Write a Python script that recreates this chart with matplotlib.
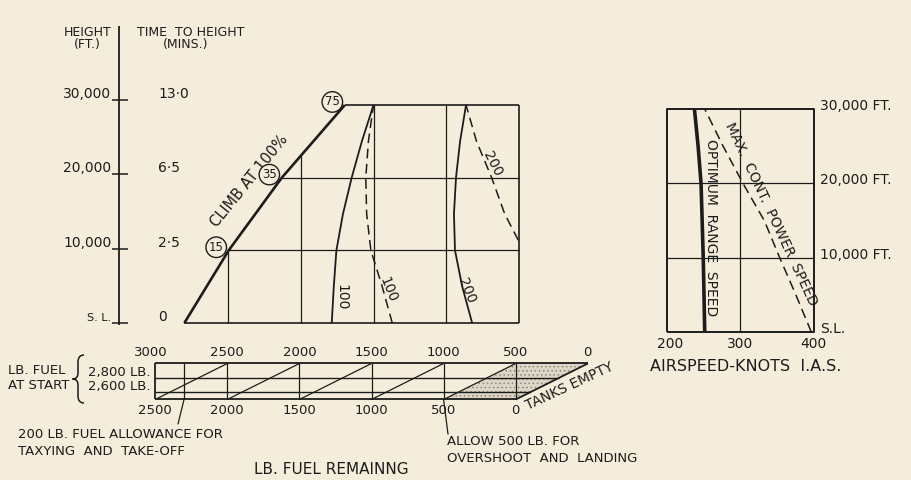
import numpy as np
import matplotlib
matplotlib.use("Agg")
import matplotlib.pyplot as plt
from matplotlib.path import Path
from matplotlib.patches import PathPatch, Polygon
import matplotlib.transforms as mtransforms

# ---------------- data ----------------
# left height / time-to-height scale
scale_heights = [0, 10000, 20000, 30000]
scale_height_labels = ["S. L.", "10,000", "20,000", "30,000"]
scale_time_labels = ["0", "2·5", "6·5", "13·0"]

# main chart: x = fuel remaining (lb, 3000 lb start scale), y = height (ft)
climb_h = [0, 10000, 20000, 30000]
climb_fuel = [2800, 2495, 2130, 1697]
climb_marks = ["15", "35", "75"]          # at 10,000 / 20,000 / 30,000 ft
climb_mark_h = [10000, 20000, 30000]
grid_heights = [10000, 20000, 30000]
grid_fuels = [2500, 2000, 1500, 1000]
chart_right_fuel = 500
curve_h = [0, 5000, 10000, 15000, 20000, 25000, 30000]
range100_solid = [1787, 1773, 1755, 1710, 1650, 1580, 1500]
range100_dashed = [1371, 1440, 1518, 1547, 1553, 1535, 1500]
range200_solid = [822, 890, 940, 947, 933, 905, 864]
range200_dashed_h = [11400, 15000, 20000, 25000, 30000]
range200_dashed = [505, 598, 688, 792, 864]

# fuel strip: x = fuel remaining on 3000 lb scale, y = fuel at start
strip_top_ticks = [3000, 2500, 2000, 1500, 1000, 500, 0]
strip_bottom_ticks = [2500, 2000, 1500, 1000, 500, 0]
start_fuel_levels = [3000, 2800, 2600, 2500]
start_fuel_labelled = [2800, 2600]
start_fuel_labels = ["2,800 LB.", "2,600 LB."]
strip_verticals = [2800, 2500, 2000, 1500, 1000, 500]
taxi_allowance = 200
landing_reserve = 500

# airspeed chart
as_h = [0, 5000, 10000, 15000, 20000, 25000, 30000]
opt_range_kt = [252, 251, 250, 248.5, 247, 243, 238]
max_cont_kt = [397, 376, 354, 333, 304, 277, 252]
as_ticks = [200, 300, 400]
as_height_ticks = [0, 10000, 20000, 30000]
as_height_labels = ["S.L.", "10,000 FT.", "20,000 FT.", "30,000 FT."]

# ---------------- style ----------------
W, H = 911, 480
BG = "#f4eddb"
INK = "#1c1c1c"
plt.rcParams["font.family"] = ["DejaVu Sans"]
plt.rcParams["lines.scale_dashes"] = False
plt.rcParams["hatch.linewidth"] = 0.6
plt.rcParams["hatch.color"] = "#8d877c"
plt.rcParams["lines.solid_capstyle"] = "butt"

fig = plt.figure(figsize=(W / 100, H / 100), dpi=100, facecolor=BG)


def rect(x0, y0, x1, y1):
    return [x0 / W, 1 - y1 / H, (x1 - x0) / W, (y1 - y0) / H]


def off(dx, dy):
    return mtransforms.ScaledTranslation(dx / 100, dy / 100, fig.dpi_scale_trans)


# canvas for lettering (pixel coordinates)
ax = fig.add_axes([0, 0, 1, 1])
ax.set_xlim(0, W)
ax.set_ylim(H, 0)
ax.axis("off")

axl = fig.add_axes(rect(110, 100, 130, 323))
axl.set_ylim(0, 30000)
axl.axis("off")

axm = fig.add_axes(rect(155.25, 105, 591.75, 323))
axm.set_xlim(3000, 0)
axm.set_ylim(0, 30000)
axm.axis("off")

axs = fig.add_axes(rect(155.2, 363.5, 587.8, 399.5))
axs.set_xlim(3000, 0)
axs.set_ylim(2500, 3000)
axs.axis("off")

axr = fig.add_axes(rect(666.5, 109, 813.5, 332))
axr.set_xlim(200, 400)
axr.set_ylim(0, 30000)
axr.axis("off")

for a in (ax, axl, axm, axs, axr):
    a.patch.set_alpha(0)

tk = dict(color=INK, fontfamily="DejaVu Sans")

# ---------------- left scale ----------------
ax.plot([118.5, 118.5], [26, 325], color=INK, lw=1.3)
trans_l = mtransforms.blended_transform_factory(ax.transData, axl.transData)
for h, hl, tl in zip(scale_heights, scale_height_labels, scale_time_labels):
    ax.plot([112, 128], [h, h], transform=trans_l, color=INK, lw=1.1)
    fs = 8 if h == 0 else 10
    ax.text(111.5, h, hl, transform=trans_l + off(0, 2), ha="right", va="baseline",
            fontsize=fs, **tk)
    ax.text(158, h, tl, transform=trans_l + off(0, 2), ha="left", va="baseline",
            fontsize=10, **tk)

ax.text(87.5, 32, "HEIGHT", ha="center", va="center", fontsize=9, **tk)
ax.text(87, 44.5, "(FT.)", ha="center", va="center", fontsize=9, **tk)
ax.text(191, 32, "TIME  TO HEIGHT", ha="center", va="center", fontsize=9, **tk)
ax.text(185.5, 44.5, "(MINS.)", ha="center", va="center", fontsize=9, **tk)

# ---------------- main chart ----------------
axm.plot(climb_fuel, climb_h, color=INK, lw=1.9, clip_on=False)
axm.plot([climb_fuel[0], chart_right_fuel], [0, 0], color=INK, lw=1.2, clip_on=False)
axm.plot([chart_right_fuel, chart_right_fuel], [0, 30000], color=INK, lw=1.2, clip_on=False)
for h in grid_heights:
    f0 = np.interp(h, climb_h, climb_fuel)
    axm.plot([f0, chart_right_fuel], [h, h], color=INK,
             lw=1.2 if h == 30000 else 0.9, clip_on=False)
for f in grid_fuels:
    htop = min(30000, np.interp(f, climb_fuel[::-1], climb_h[::-1]))
    axm.plot([f, f], [0, htop], color=INK, lw=0.9, clip_on=False)

axm.plot(range100_solid, curve_h, color=INK, lw=1.3, clip_on=False)
axm.plot(range100_dashed, curve_h, color=INK, lw=1.1, dashes=(7, 4), clip_on=False)
axm.plot(range200_solid, curve_h, color=INK, lw=1.3, clip_on=False)
axm.plot(range200_dashed, range200_dashed_h, color=INK, lw=1.1, dashes=(7, 4), clip_on=False)

for lbl, h in zip(climb_marks, climb_mark_h):
    f = np.interp(h, climb_h, climb_fuel)
    axm.annotate(lbl, xy=(f, h), xytext=(-9, 2.2), textcoords="offset points",
                 ha="center", va="center", fontsize=8.5, color=INK,
                 bbox=dict(boxstyle="circle,pad=0.24", fc=BG, ec=INK, lw=1.0),
                 annotation_clip=False)

ax.text(249.5, 180.8, "CLIMB AT 100%", rotation=51, rotation_mode="anchor",
        ha="center", va="center", fontsize=10.5, **tk)
ax.text(341.7, 296.7, "100", rotation=-90, rotation_mode="anchor",
        ha="center", va="center", fontsize=10, **tk)
ax.text(388, 290, "100", rotation=-68, rotation_mode="anchor",
        ha="center", va="center", fontsize=10, **tk)
ax.text(466.7, 291, "200", rotation=-68, rotation_mode="anchor",
        ha="center", va="center", fontsize=10, **tk)
ax.text(492.5, 164, "200", rotation=-63, rotation_mode="anchor",
        ha="center", va="center", fontsize=10, **tk)

# ---------------- fuel strip ----------------
res_poly = Polygon([(landing_reserve + 500, 2500), (500, 2500), (0, 3000),
                    (landing_reserve, 3000)], closed=True, facecolor="#ddd6c6",
                   edgecolor="#8d877c", hatch="....", lw=0, clip_on=False)
axs.add_patch(res_poly)
for s in start_fuel_levels:
    lw = 1.3 if s in (3000, 2500) else 1.0
    axs.plot([3000, 3000 - s], [s, s], color=INK, lw=lw, clip_on=False)
axs.plot([3000, 3000], [2500, 3000], color=INK, lw=1.3, clip_on=False)
for f in strip_verticals:
    axs.plot([f, f], [2500, 3000], color=INK, lw=0.9, clip_on=False)
for F in strip_bottom_ticks:
    axs.plot([F + 500, F], [2500, 3000], color=INK, lw=1.3 if F == 0 else 0.9,
             clip_on=False)

for f in strip_top_ticks:
    dx = -4 if f == 3000 else 0
    axs.text(f, 3000, str(f), transform=axs.transData + off(dx, 4), ha="center",
             va="bottom", fontsize=9.5, **tk)
for F in strip_bottom_ticks:
    axs.text(F + 500, 2500, str(F), transform=axs.transData + off(0, -11.5),
             ha="center", va="center", fontsize=9.5, **tk)
for s, lbl in zip(start_fuel_labelled, start_fuel_labels):
    axs.text(3000, s, lbl, transform=axs.transData + off(-5, 2), ha="right",
             va="baseline", fontsize=9.5, **tk)

ax.text(8, 370.7, "LB. FUEL", ha="left", va="center", fontsize=9.5, **tk)
ax.text(8, 385.7, "AT START", ha="left", va="center", fontsize=9.5, **tk)
brace = Path([(84, 355), (78, 355), (78, 362), (78, 373), (78, 379), (72.5, 379),
              (78, 379), (78, 385), (78, 396), (78, 403), (84, 403)],
             [Path.MOVETO, Path.CURVE3, Path.CURVE3, Path.LINETO, Path.CURVE3,
              Path.CURVE3, Path.CURVE3, Path.CURVE3, Path.LINETO, Path.CURVE3,
              Path.CURVE3])
ax.add_patch(PathPatch(brace, fill=False, ec=INK, lw=1.1))

ax.text(570, 386, "TANKS EMPTY", rotation=25, rotation_mode="anchor",
        ha="center", va="center", fontsize=10, **tk)

ax.annotate("", xy=(3000 - taxi_allowance, 2500), xycoords=axs.transData,
            xytext=(178, 424), textcoords="data",
            arrowprops=dict(arrowstyle="-", color=INK, lw=0.9,
                            shrinkA=0, shrinkB=0))
ax.text(18, 434.5, "200 LB. FUEL ALLOWANCE FOR", ha="left", va="center",
        fontsize=9.5, **tk)
ax.text(18, 451.7, "TAXYING  AND  TAKE-OFF", ha="left", va="center",
        fontsize=9.5, **tk)

ax.annotate("", xy=(landing_reserve + 500, 2500), xycoords=axs.transData,
            xytext=(448, 434), textcoords="data",
            arrowprops=dict(arrowstyle="-", color=INK, lw=0.9,
                            shrinkA=0, shrinkB=0))
ax.text(446.7, 441.7, "ALLOW 500 LB. FOR", ha="left", va="center",
        fontsize=9.5, **tk)
ax.text(446.7, 458.3, "OVERSHOOT  AND  LANDING", ha="left", va="center",
        fontsize=9.5, **tk)

ax.text(331, 470, "LB. FUEL REMAINNG", ha="center", va="center", fontsize=11, **tk)

# ---------------- airspeed chart ----------------
axr.plot([200, 400, 400, 200, 200], [0, 0, 30000, 30000, 0], color=INK, lw=1.4,
         clip_on=False)
axr.plot([300, 300], [0, 30000], color=INK, lw=0.9, clip_on=False)
for h in (10000, 20000):
    axr.plot([200, 400], [h, h], color=INK, lw=0.9, clip_on=False)
axr.plot(opt_range_kt, as_h, color=INK, lw=2.6, clip_on=False)
axr.plot(max_cont_kt, as_h, color=INK, lw=1.1, dashes=(7, 4), clip_on=False)

for kt in as_ticks:
    axr.text(kt, 0, str(kt), transform=axr.transData + off(4 if kt == 200 else 0, -11.5),
             ha="center", va="center", fontsize=10, **tk)
for h, lbl in zip(as_height_ticks, as_height_labels):
    axr.text(400, h, lbl, transform=axr.transData + off(7, 3), ha="left",
             va="center", fontsize=10, **tk)

ax.text(711, 228, "OPTIMUM  RANGE  SPEED", rotation=-90, rotation_mode="anchor",
        ha="center", va="center", fontsize=10, **tk)
ax.text(771, 214, "MAX.  CONT.  POWER  SPEED", rotation=-65, rotation_mode="anchor",
        ha="center", va="center", fontsize=10, **tk)
ax.text(746, 366.7, "AIRSPEED-KNOTS  I.A.S.", ha="center", va="center",
        fontsize=11.5, **tk)

fig.savefig("out.png", dpi=100, facecolor=BG)
